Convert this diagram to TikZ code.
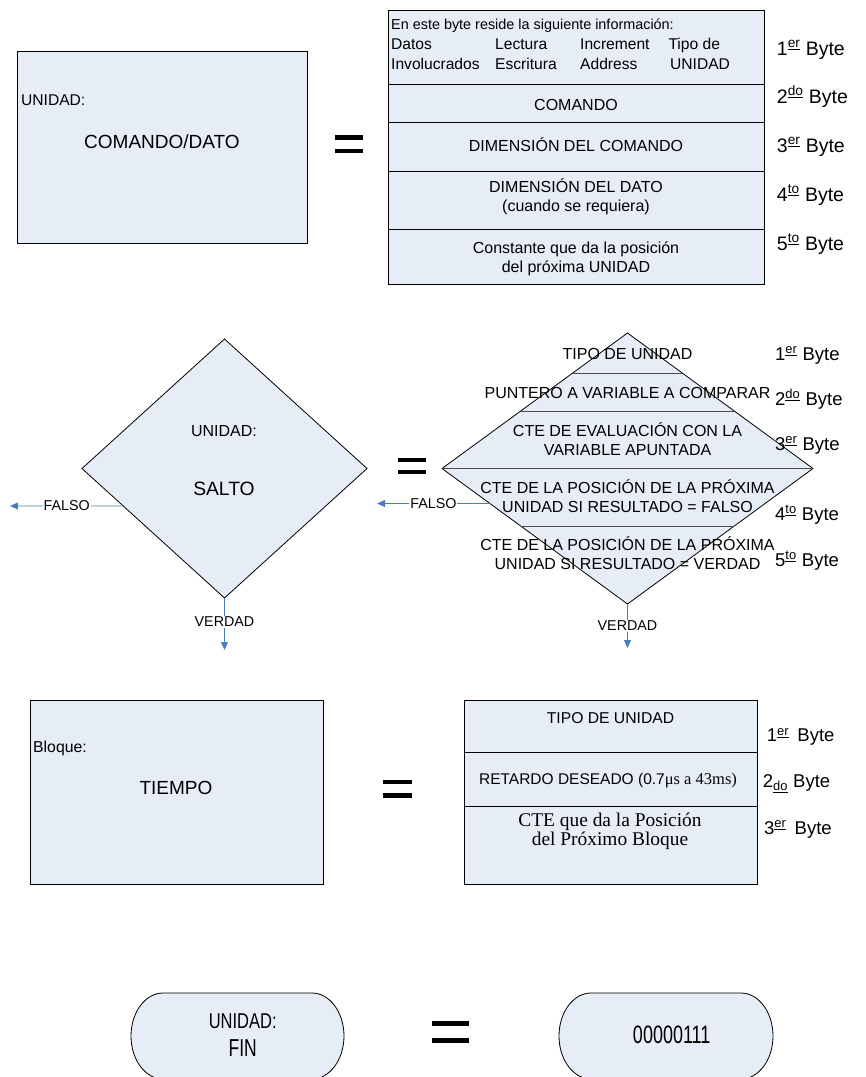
\documentclass[tikz,border=0pt]{standalone}
\usepackage{fontspec}
\setmainfont{Liberation Sans}
\newfontfamily\serifft{Liberation Serif}
\usepackage{graphicx}
\usetikzlibrary{shapes.geometric,arrows.meta,calc}
\definecolor{boxfill}{HTML}{E7EDF7}
\definecolor{arrowblue}{HTML}{4A7EBB}
\newcommand\fsz[2]{\fontsize{#1}{#2}\selectfont}
\newcommand\ordsup[1]{\textsuperscript{\underline{#1}}}
\newcommand\ordsub[1]{\textsubscript{\underline{#1}}}
\begin{document}
\begin{tikzpicture}[x=1pt,y=-1pt,
  shapebox/.style={draw=black, line width=0.8pt, fill=boxfill, inner sep=0pt, outer sep=0pt},
  rowline/.style={draw=black!70, line width=0.8pt},
  txt/.style={inner sep=0pt, anchor=base},
  txtl/.style={inner sep=0pt, anchor=base west},
  conn/.style={draw=arrowblue, line width=0.8pt, -{Triangle[length=8pt,width=7pt]}},
  lbl/.style={fill=white, inner sep=1pt, font=\fsz{14.3}{17}},
  bytel/.style={inner sep=0pt, anchor=base west},
  eqbar/.style={fill=black, draw=none}]
\useasboundingbox (0,0) rectangle (866,1077);

% ---------------- Section 1: COMANDO/DATO ----------------
\node[shapebox, minimum width=290pt, minimum height=192pt] (cmd) at (162,147) {};
\node[txtl, font=\fsz{15.6}{18}] (cmdu) at (21,105) {UNIDAD:};
\node[txt, font=\fsz{19}{22}] (cmdt) at (162,148.3) {COMANDO/DATO};

\fill[eqbar] (335,135) rectangle (363,139.5);
\fill[eqbar] (335,148.5) rectangle (363,153);

\node[shapebox, minimum width=376pt, minimum height=74pt, anchor=north west] (r1) at (388,10) {};
\node[shapebox, minimum width=376pt, minimum height=38pt, anchor=north west] (r2) at (r1.south west) {};
\node[shapebox, minimum width=376pt, minimum height=49pt, anchor=north west] (r3) at (r2.south west) {};
\node[shapebox, minimum width=376pt, minimum height=58pt, anchor=north west] (r4) at (r3.south west) {};
\node[shapebox, minimum width=376pt, minimum height=55pt, anchor=north west] (r5) at (r4.south west) {};

\node[txtl, font=\fsz{14.4}{17}] (r1a) at (391,29.3) {En este byte reside la siguiente información:};
\node[txtl, font=\fsz{15.6}{18}] (r1b) at (391,49.3) {Datos};
\node[txtl, font=\fsz{15.6}{18}] (r1c) at (391,69) {Involucrados};
\node[txtl, font=\fsz{15.6}{18}] (r1d) at (495,49.3) {Lectura};
\node[txtl, font=\fsz{15.6}{18}] (r1e) at (495,69) {Escritura};
\node[txtl, font=\fsz{15.6}{18}] (r1f) at (580,49.3) {Increment};
\node[txtl, font=\fsz{15.6}{18}] (r1g) at (580,69) {Address};
\node[txtl, font=\fsz{15.6}{18}] (r1h) at (668.3,49.3) {Tipo de};
\node[txtl, font=\fsz{15.6}{18}] (r1i) at (670,69) {UNIDAD};

\node[txt, font=\fsz{16}{19}] (r2t) at (576,110) {COMANDO};
\node[txt, font=\fsz{16}{19}] (r3t) at (576,151.7) {DIMENSIÓN DEL COMANDO};
\node[txt, font=\fsz{16}{19}] (r4t) at (576,192.3) {DIMENSIÓN DEL DATO};
\node[txt, font=\fsz{16}{19}] (r4u) at (576,211) {(cuando se requiera)};
\node[txt, font=\fsz{16}{19}] (r5t) at (576,253) {Constante que da la posición};
\node[txt, font=\fsz{16}{19}] (r5u) at (576,272.7) {del próxima UNIDAD};

\node[bytel, font=\fsz{19.5}{22}] (b11) at (776.7,55) {1\ordsup{er} Byte};
\node[bytel, font=\fsz{19.5}{22}] (b12) at (776.7,103.3) {2\ordsup{do} Byte};
\node[bytel, font=\fsz{19.5}{22}] (b13) at (776.7,152.3) {3\ordsup{er} Byte};
\node[bytel, font=\fsz{19.5}{22}] (b14) at (776.7,201) {4\ordsup{to} Byte};
\node[bytel, font=\fsz{19.5}{22}] (b15) at (776.7,250) {5\ordsup{to} Byte};

% ---------------- Section 2: SALTO ----------------
\node[shapebox, diamond, minimum width=285pt, minimum height=259pt] (d1) at (224.5,468.5) {};
\node[txt, font=\fsz{16}{19}] (d1u) at (224,436) {UNIDAD:};
\node[txt, font=\fsz{19.3}{22}] (d1s) at (224,495.7) {SALTO};

\coordinate (f1end) at (10,506);
\coordinate (v1end) at (224.5,650);
\draw[conn] ($(d1.west)!0.29!(d1.south)$) -- node[lbl, pos=0.5] (f1l) {FALSO} (f1end);
\draw[conn] (d1.south) -- node[lbl, pos=0.46] (v1l) {VERDAD} (v1end);

\fill[eqbar] (398,457.5) rectangle (426,462);
\fill[eqbar] (398,469.5) rectangle (426,474);

\node[shapebox, diamond, minimum width=371pt, minimum height=271pt] (d2) at (627.5,468.5) {};
\draw[rowline] ($(d2.north)!0.295!(d2.west)$) -- ($(d2.north)!0.295!(d2.east)$);
\draw[rowline] ($(d2.north)!0.576!(d2.west)$) -- ($(d2.north)!0.576!(d2.east)$);
\draw[rowline] (d2.west) -- (d2.east);
\draw[rowline] ($(d2.south)!0.576!(d2.west)$) -- ($(d2.south)!0.576!(d2.east)$);

\node[txt, font=\fsz{16}{19}] (d2a) at (627.5,359.3) {TIPO DE UNIDAD};
\node[txt, font=\fsz{16}{19}] (d2b) at (627.5,398) {PUNTERO A VARIABLE A COMPARAR};
\node[txt, font=\fsz{16}{19}] (d2c) at (627.5,436) {CTE DE EVALUACIÓN CON LA};
\node[txt, font=\fsz{16}{19}] (d2d) at (627.5,455) {VARIABLE APUNTADA};
\node[txt, font=\fsz{16}{19}] (d2e) at (627.5,493.3) {CTE DE LA POSICIÓN DE LA PRÓXIMA};
\node[txt, font=\fsz{16}{19}] (d2f) at (627.5,512.3) {UNIDAD SI RESULTADO = FALSO};
\node[txt, font=\fsz{16}{19}] (d2g) at (627.5,550.7) {CTE DE LA POSICIÓN DE LA PRÓXIMA};
\node[txt, font=\fsz{16}{19}] (d2h) at (627.5,569) {UNIDAD SI RESULTADO = VERDAD};

\coordinate (f2end) at (377,503.5);
\coordinate (v2end) at (627.5,648);
\draw[conn] ($(d2.west)!0.258!(d2.south)$) -- node[lbl, pos=0.5] (f2l) {FALSO} (f2end);
\draw[conn] (d2.south) -- node[lbl, pos=0.5] (v2l) {VERDAD} (v2end);

\node[bytel, font=\fsz{18.5}{22}] (b21) at (775,360) {1\ordsup{er} Byte};
\node[bytel, font=\fsz{18.5}{22}] (b22) at (775,405) {2\ordsup{do} Byte};
\node[bytel, font=\fsz{18.5}{22}] (b23) at (775,450) {3\ordsup{er} Byte};
\node[bytel, font=\fsz{18.5}{22}] (b24) at (775,520) {4\ordsup{to} Byte};
\node[bytel, font=\fsz{18.5}{22}] (b25) at (775,566) {5\ordsup{to} Byte};

% ---------------- Section 3: TIEMPO ----------------
\node[shapebox, minimum width=293pt, minimum height=184pt] (tb) at (176.5,792) {};
\node[txtl, font=\fsz{15.8}{18}] (tbu) at (33,752.7) {Bloque:};
\node[txt, font=\fsz{19}{22}] (tbt) at (176,794.3) {TIEMPO};

\fill[eqbar] (383,780) rectangle (412,784.3);
\fill[eqbar] (383,793.3) rectangle (412,797.7);

\node[shapebox, minimum width=293pt, minimum height=52pt, anchor=north west] (s1) at (464,700) {};
\node[shapebox, minimum width=293pt, minimum height=54pt, anchor=north west] (s2) at (s1.south west) {};
\node[shapebox, minimum width=293pt, minimum height=78pt, anchor=north west] (s3) at (s2.south west) {};

\node[txt, font=\fsz{15.7}{19}] (s1t) at (610.5,723.3) {TIPO DE UNIDAD};
\node[txt, font=\fsz{15.5}{19}] (s2t) at (608,784.3) {RETARDO DESEADO (0.7{\serifft\fontsize{16.5}{19}\selectfont μs a 43ms)}};
\node[txt, font=\serifft\fsz{19.4}{22}] (s3t) at (610,826) {CTE que da la Posición};
\node[txt, font=\serifft\fsz{19.4}{22}] (s3u) at (610,845) {del Próximo Bloque};

\node[bytel, font=\fsz{18.5}{22}] (b31) at (766.7,741.7) {1\ordsup{er}\, Byte};
\node[bytel, font=\fsz{18.5}{22}] (b32) at (762.7,787.3) {2\ordsub{do} Byte};
\node[bytel, font=\fsz{18.5}{22}] (b33) at (764,834) {3\ordsup{er}\, Byte};

% ---------------- Section 4: FIN ----------------
\draw[shapebox] (163,993) -- (312,993) .. controls (329.7,993) and (344,1012.3) .. (344,1036)
  .. controls (344,1059.7) and (329.7,1079) .. (312,1079) -- (163,1079)
  .. controls (145.3,1079) and (131,1059.7) .. (131,1036)
  .. controls (131,1012.3) and (145.3,993) .. (163,993) -- cycle;
\node[txt, font=\fsz{16.5}{19}] (fnu) at (242.7,1028.3) {\scalebox{1}[1.3]{UNIDAD:}};
\node[txt, font=\fsz{17.5}{20}] (fnt) at (242.7,1056.7) {\scalebox{1}[1.4]{FIN}};

\fill[eqbar] (432.3,1020.7) rectangle (469.3,1025.7);
\fill[eqbar] (432.3,1038.3) rectangle (469.3,1043.3);

\draw[shapebox] (591,993) -- (741,993) .. controls (758.7,993) and (773,1012.3) .. (773,1036)
  .. controls (773,1059.7) and (758.7,1079) .. (741,1079) -- (591,1079)
  .. controls (573.3,1079) and (559,1059.7) .. (559,1036)
  .. controls (559,1012.3) and (573.3,993) .. (591,993) -- cycle;
\node[txt, font=\fsz{18}{21}] (fnv) at (671.7,1043.3) {\scalebox{1}[1.4]{00000111}};
\end{tikzpicture}
\end{document}
